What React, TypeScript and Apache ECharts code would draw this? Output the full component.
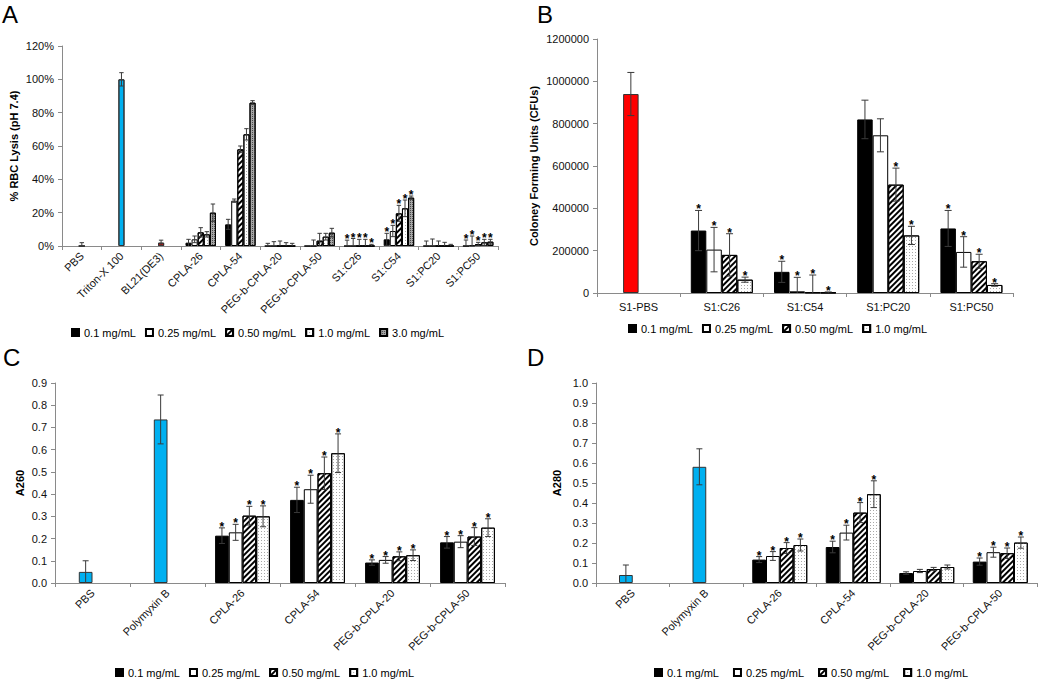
import React, { useEffect, useRef } from 'react';
import * as echarts from 'echarts';

const FONT = 'Liberation Sans, Arial, sans-serif';
const BLUE = '#00B0F0';
const RED = '#FF0000';

// ---------- Panel A : % RBC lysis ----------
const catsA = ['PBS', 'Triton-X 100', 'BL21(DE3)', 'CPLA-26', 'CPLA-54', 'PEG-b-CPLA-20', 'PEG-b-CPLA-50', 'S1:C26', 'S1:C54', 'S1:PC20', 'S1:PC50'];
const namesA = ['0.1 mg/mL', '0.25 mg/mL', '0.50 mg/mL', '1.0 mg/mL', '3.0 mg/mL'];
const a01 = [null, null, null, 2, 13, 0, 0, 0, 4, 0, 0];
const a025 = [null, null, null, 4, 27.2, 0, 0, 0, 9, 0, 0.3];
const a050 = [0, 100, 2, 8.2, 58, 0, 3.2, 0, 19.6, 0, 1.2];
const a10 = [null, null, null, 7, 67, 0, 5.6, 0, 22.6, 0, 2.2];
const a30 = [null, null, null, 20, 86, 0, 8, 0, 29, 0, 2.6];
const ea01 = [null, null, null, 2, 3, 1.6, 0, 3.5, 3.6, 3, 3.6];
const ea025 = [null, null, null, 2, 1, 2.6, 3.6, 4.5, 3.4, 4.2, 5.7];
const ea050 = [2, 4, 1.5, 2.8, 2, 3, 4.4, 4, 4.8, 3, 1];
const ea10 = [null, null, null, 1.6, 3.4, 2, 2, 4, 5, 2.2, 1.8];
const ea30 = [null, null, null, 5.2, 1.2, 1.6, 2.6, 1, 1, 1, 1.4];
const sa = [false, false, false, false, false, false, false, true, true, false, true];
const starsA = [sa, sa, sa, sa, sa];
const ctrlA = [BLUE, BLUE, RED, null, null, null, null, null, null, null, null];

// ---------- Panel B : CFUs ----------
const catsB = ['S1-PBS', 'S1:C26', 'S1:C54', 'S1:PC20', 'S1:PC50'];
const namesB = ['0.1 mg/mL', '0.25 mg/mL', '0.50 mg/mL', '1.0 mg/mL'];
const b01 = [null, 295000, 100000, 820000, 305000];
const b025 = [940000, 205000, 8000, 745000, 194000];
const b050 = [null, 180000, 3000, 512000, 150000];
const b10 = [null, 63000, 2000, 272000, 38000];
const eb01 = [null, 95000, 50000, 91000, 85000];
const eb025 = [102000, 105000, 66000, 78000, 72000];
const eb050 = [null, 100000, 82000, 78000, 33000];
const eb10 = [null, 12000, 3000, 43000, 6000];
const sb01 = [false, true, true, false, true];
const sb025 = [false, true, true, false, true];
const sb050 = [false, true, true, true, true];
const sb10 = [false, true, true, true, true];
const ctrlB = [RED, null, null, null, null];

// ---------- Panels C / D : A260, A280 ----------
const catsCD = ['PBS', 'Polymyxin B', 'CPLA-26', 'CPLA-54', 'PEG-b-CPLA-20', 'PEG-b-CPLA-50'];
const namesCD = ['0.1 mg/mL', '0.25 mg/mL', '0.50 mg/mL', '1.0 mg/mL'];
const c01 = [null, null, 0.213, 0.374, 0.092, 0.183];
const c025 = [0.05, 0.736, 0.228, 0.422, 0.104, 0.186];
const c050 = [null, null, 0.303, 0.494, 0.12, 0.209];
const c10 = [null, null, 0.3, 0.584, 0.125, 0.249];
const ec01 = [null, null, 0.035, 0.057, 0.012, 0.026];
const ec025 = [0.05, 0.11, 0.036, 0.063, 0.015, 0.027];
const ec050 = [null, null, 0.042, 0.073, 0.02, 0.04];
const ec10 = [null, null, 0.047, 0.087, 0.024, 0.04];
const sc = [false, false, true, true, true, true];
const starsC = [sc, sc, sc, sc];
const d01 = [null, null, 0.117, 0.18, 0.05, 0.107];
const d025 = [0.04, 0.581, 0.135, 0.252, 0.06, 0.154];
const d050 = [null, null, 0.175, 0.352, 0.07, 0.149];
const d10 = [null, null, 0.19, 0.444, 0.08, 0.202];
const ed01 = [null, null, 0.015, 0.029, 0.006, 0.018];
const ed025 = [0.05, 0.09, 0.022, 0.037, 0.008, 0.025];
const ed050 = [null, null, 0.027, 0.05, 0.008, 0.026];
const ed10 = [null, null, 0.03, 0.067, 0.01, 0.028];
const sd = [false, false, true, true, false, true];
const starsD = [sd, sd, sd, sd];
const ctrlCD = [BLUE, BLUE, null, null, null, null];

// ---------- styles ----------
const HATCH = { symbol: 'rect', symbolSize: 1, color: '#000', dashArrayX: [1, 0], dashArrayY: [1.7, 2], rotation: -Math.PI / 4 };
const DOTS = { symbol: 'rect', symbolSize: 1, color: '#a8a8a8', dashArrayX: [1, 2], dashArrayY: [1, 2], rotation: 0 };
const DARKDOTS = { symbol: 'rect', symbolSize: 1, color: '#4a4a4a', dashArrayX: [1, 1], dashArrayY: [1, 1], rotation: 0 };
const CLEAR = { symbol: 'rect', symbolSize: 1, color: 'rgba(0,0,0,0)', dashArrayX: [1, 0], dashArrayY: [1, 0], rotation: 0 };
const seriesLooks = [
  { color: '#000000', decal: null },
  { color: '#ffffff', decal: null },
  { color: '#ffffff', decal: HATCH },
  { color: '#ffffff', decal: DOTS },
  { color: '#a6a6a6', decal: DARKDOTS },
];
const AXIS_COLOR = '#8a8a8a';

function buildPanel(idx: number, cfg: any) {
  const n = cfg.values.length;
  const grid = { left: cfg.grid[0], top: cfg.grid[1], width: cfg.grid[2], height: cfg.grid[3], containLabel: false };
  const xAxis = {
    type: 'category', gridIndex: idx, data: cfg.cats, boundaryGap: true,
    axisLine: { show: true, lineStyle: { color: AXIS_COLOR, width: 1 } },
    axisTick: { show: true, length: 4, alignWithLabel: false, interval: 0, lineStyle: { color: AXIS_COLOR } },
    axisLabel: { interval: 0, rotate: cfg.rotate, fontSize: 11, fontFamily: FONT, color: '#111', margin: cfg.labelMargin },
    splitLine: { show: false },
  };
  const yAxis = {
    type: 'value', gridIndex: idx, min: cfg.yMin, max: cfg.yMax, interval: cfg.yInterval,
    name: cfg.yName, nameLocation: 'middle', nameGap: cfg.yNameGap,
    nameTextStyle: { fontSize: 11, fontWeight: 'bold', fontFamily: FONT, color: '#000' },
    axisLine: { show: true, lineStyle: { color: AXIS_COLOR, width: 1 } },
    axisTick: { show: true, length: 4, inside: false, lineStyle: { color: AXIS_COLOR } },
    axisLabel: { fontSize: 11, fontFamily: FONT, color: '#111', formatter: cfg.yFormatter, margin: 8 },
    splitLine: { show: false },
  };
  const series: any[] = [];
  for (let i = 0; i < n; i++) {
    const look = seriesLooks[i];
    const itemStyle: any = { color: look.color, borderColor: '#000', borderWidth: 1 };
    if (look.decal) itemStyle.decal = look.decal;
    series.push({
      type: 'bar', name: cfg.names[i], xAxisIndex: idx, yAxisIndex: idx,
      barWidth: cfg.barW, barGap: '0%',
      itemStyle,
      data: cfg.values[i].map((v: any, c: number) => {
        if (v == null) return null;
        if (i === cfg.ctrlSlot && cfg.ctrl[c]) {
          const st: any = { color: cfg.ctrl[c], borderColor: '#333' };
          if (look.decal) st.decal = CLEAR;
          return { value: v, itemStyle: st };
        }
        return v;
      }),
    });
  }
  const errData: any[] = [];
  for (let i = 0; i < n; i++) {
    cfg.values[i].forEach((v: any, c: number) => {
      if (v == null) return;
      const e = cfg.errors[i][c] || 0;
      const s = cfg.stars[i][c] ? 1 : 0;
      errData.push([c, i, v, e, s]);
    });
  }
  const barW = cfg.barW;
  const cap = cfg.cap;
  series.push({
    type: 'custom', xAxisIndex: idx, yAxisIndex: idx, silent: true, clip: false, z: 5,
    encode: { x: 0, y: 2 },
    data: errData,
    renderItem: (params: any, api: any) => {
      const cat = api.value(0);
      const slot = api.value(1);
      const v = api.value(2);
      const e = api.value(3);
      const star = api.value(4);
      const base = api.coord([cat, v]);
      const cx = base[0] + (slot - (n - 1) / 2) * barW;
      const top = api.coord([cat, v + e])[1];
      const lo = Math.max(0, v - e);
      const bot = api.coord([cat, lo])[1];
      const ls = { stroke: '#3a3a3a', lineWidth: 1 };
      const children: any[] = [];
      if (e > 0) {
        children.push({ type: 'line', shape: { x1: cx, y1: top, x2: cx, y2: bot }, style: ls });
        children.push({ type: 'line', shape: { x1: cx - cap, y1: top, x2: cx + cap, y2: top }, style: ls });
        if (lo > 0) children.push({ type: 'line', shape: { x1: cx - cap, y1: bot, x2: cx + cap, y2: bot }, style: ls });
      }
      if (star) {
        children.push({
          type: 'text', x: cx, y: top - 1,
          style: { text: '*', fontSize: 12, fontWeight: 'bold', fontFamily: FONT, fill: '#000', align: 'center', verticalAlign: 'middle' },
        });
      }
      return { type: 'group', children };
    },
  });
  const legend = {
    data: cfg.names, left: cfg.legend[0], top: cfg.legend[1], orient: 'horizontal',
    icon: 'rect', itemWidth: 7, itemHeight: 7, itemGap: cfg.legendGap, selectedMode: false,
    textStyle: { fontSize: 11, fontFamily: FONT, color: '#000' },
  };
  return { grid, xAxis, yAxis, series, legend };
}

export default function App() {
  const ref = useRef<HTMLDivElement>(null);
  useEffect(() => {
    if (!ref.current) return;
    const chart = echarts.init(ref.current, null, { renderer: 'svg' });
    const pA = buildPanel(0, {
      cats: catsA, names: namesA, values: [a01, a025, a050, a10, a30], errors: [ea01, ea025, ea050, ea10, ea30],
      stars: starsA, ctrlSlot: 2, ctrl: ctrlA, grid: [62, 46, 436, 200], yMin: 0, yMax: 120, yInterval: 20,
      yFormatter: (v: number) => v + '%', yName: '% RBC Lysis (pH 7.4)', yNameGap: 43, rotate: 45, labelMargin: 8,
      barW: 6.1, cap: 2.2, legend: [66, 322], legendGap: 9,
    });
    const pB = buildPanel(1, {
      cats: catsB, names: namesB, values: [b01, b025, b050, b10], errors: [eb01, eb025, eb050, eb10],
      stars: [sb01, sb025, sb050, sb10], ctrlSlot: 1, ctrl: ctrlB, grid: [597, 39, 416, 254], yMin: 0, yMax: 1200000, yInterval: 200000,
      yFormatter: (v: number) => String(v), yName: 'Coloney Forming Units (CFUs)', yNameGap: 58, rotate: 0, labelMargin: 8,
      barW: 15.5, cap: 3.5, legend: [623, 318], legendGap: 9,
    });
    const pC = buildPanel(2, {
      cats: catsCD, names: namesCD, values: [c01, c025, c050, c10], errors: [ec01, ec025, ec050, ec10],
      stars: starsC, ctrlSlot: 1, ctrl: ctrlCD, grid: [55, 383, 450, 200], yMin: 0, yMax: 0.9, yInterval: 0.1,
      yFormatter: (v: number) => v.toFixed(1), yName: 'A260', yNameGap: 30, rotate: 45, labelMargin: 8,
      barW: 13.7, cap: 3, legend: [110, 662], legendGap: 9,
    });
    const pD = buildPanel(3, {
      cats: catsCD, names: namesCD, values: [d01, d025, d050, d10], errors: [ed01, ed025, ed050, ed10],
      stars: starsD, ctrlSlot: 1, ctrl: ctrlCD, grid: [596, 383, 441, 200], yMin: 0, yMax: 1.0, yInterval: 0.1,
      yFormatter: (v: number) => v.toFixed(1), yName: 'A280', yNameGap: 34, rotate: 45, labelMargin: 8,
      barW: 13.75, cap: 3, legend: [649, 662], legendGap: 14,
    });
    const panels = [pA, pB, pC, pD];
    const letter = (t: string, x: number, y: number) => ({
      type: 'text', left: x, top: y,
      style: { text: t, fontSize: 24, fontFamily: FONT, fill: '#000' },
    });
    chart.setOption({
      animation: false,
      backgroundColor: '#ffffff',
      textStyle: { fontFamily: FONT },
      grid: panels.map((p) => p.grid),
      xAxis: panels.map((p) => p.xAxis),
      yAxis: panels.map((p) => p.yAxis),
      legend: panels.map((p) => p.legend),
      series: panels.flatMap((p) => p.series),
      graphic: [letter('A', 2, 2), letter('B', 537, 2), letter('C', 3, 345), letter('D', 527, 345)],
    });
    return () => chart.dispose();
  }, []);
  return <div ref={ref} style={{ position: 'absolute', left: 0, top: 0, width: 1050, height: 681 }} />;
}
